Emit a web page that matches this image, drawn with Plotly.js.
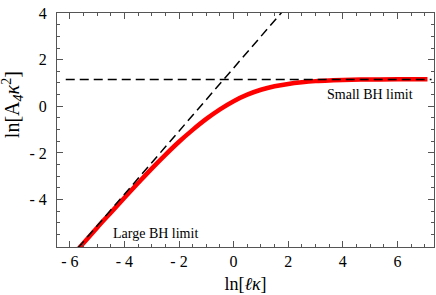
<!DOCTYPE html>
<html>
<head>
<meta charset="utf-8">
<script src="https://cdn.plot.ly/plotly-3.0.1.min.js"></script>
<style>html,body{margin:0;padding:0;background:#fff;}#chart{width:436px;height:295px;}</style>
</head>
<body>
<div id="chart"></div>
<script>
// Red curve: ln[A4 κ^2] vs ln[ℓκ]
const curveX = [-5.7, -5, -4.5, -4, -3.5, -3, -2.5, -2, -1.5, -1, -0.5, 0, 0.5, 1, 1.5, 2, 2.5, 3, 3.5, 4, 5, 6, 7.1];
const curveY = [-6.13, -5.2, -4.56, -3.92, -3.29, -2.67, -2.08, -1.52, -1.01, -0.54, -0.13, 0.22, 0.5, 0.71, 0.86, 0.96, 1.03, 1.08, 1.11, 1.13, 1.15, 1.155, 1.155];
// Large BH asymptote (diagonal dashed)
const largeX = [-5.7, 1.8];
const largeY = [-6.07, 4.08];
// Small BH asymptote (horizontal dashed)
const smallX = [-6.15, 7.25];
const smallY = [1.15, 1.15];
// Ticks
const xTickVals = [-6, -4, -2, 0, 2, 4, 6];
const xTickText = ['- 6', '- 4', '- 2', '0', '2', '4', '6'];
const yTickVals = [-4, -2, 0, 2, 4];
const yTickText = ['- 4', '- 2', '0', '2', '4'];
// Labels
const labels = [
  {text: 'Large BH limit', x: -2.88, y: -5.43},
  {text: 'Small BH limit', x: 5.0, y: 0.5}
];

const serif = 'Liberation Serif, Times New Roman, serif';
const traces = [
  {x: curveX, y: curveY, mode: 'lines', line: {color: '#ff0000', width: 4.5, shape: 'spline'}},
  {x: largeX, y: largeY, mode: 'lines', line: {color: '#000', width: 1.5, dash: '9px,5px'}, hoverinfo: 'skip'},
  {x: smallX, y: smallY, mode: 'lines', line: {color: '#000', width: 1.5, dash: '9px,5px'}, hoverinfo: 'skip'}
];

const axisCommon = {
  showgrid: false, zeroline: false, showline: true, linecolor: '#555', linewidth: 1,
  mirror: 'ticks', ticks: 'inside', ticklen: 6, tickcolor: '#555', tickwidth: 1,
  tickfont: {family: serif, size: 16, color: '#000'},
  minor: {dtick: 0.5, ticks: 'inside', ticklen: 3, tickcolor: '#555', tickwidth: 1},
  tickmode: 'array'
};

const layout = {
  width: 436, height: 295,
  margin: {l: 57, r: 2, t: 13, b: 48},
  paper_bgcolor: '#fff', plot_bgcolor: '#fff',
  showlegend: false,
  xaxis: Object.assign({}, axisCommon, {
    range: [-6.47, 7.34], tickvals: xTickVals, ticktext: xTickText,
    minor: Object.assign({}, axisCommon.minor, {tick0: 0}),
    title: {text: 'ln[<i>ℓκ</i>]', font: {family: serif, size: 18, color: '#000'}, standoff: 8}
  }),
  yaxis: Object.assign({}, axisCommon, {
    range: [-6.03, 4], tickvals: yTickVals, ticktext: yTickText,
    minor: Object.assign({}, axisCommon.minor, {tick0: 0}),
    ticklabelstandoff: 6
  }),
  annotations: labels.map(l => ({
    x: l.x, y: l.y, xref: 'x', yref: 'y', text: l.text, showarrow: false,
    font: {family: serif, size: 14, color: '#000'}
  })).concat([{
    xref: 'paper', yref: 'paper', x: -0.117, y: 0.61, xanchor: 'center', yanchor: 'middle',
    text: 'ln[A<sub><i>4</i></sub><i>κ</i><sup>2</sup>]', textangle: -90, showarrow: false,
    font: {family: serif, size: 20, color: '#000'}
  }])
};

Plotly.newPlot('chart', traces, layout, {staticPlot: true, displayModeBar: false});
</script>
</body>
</html>
